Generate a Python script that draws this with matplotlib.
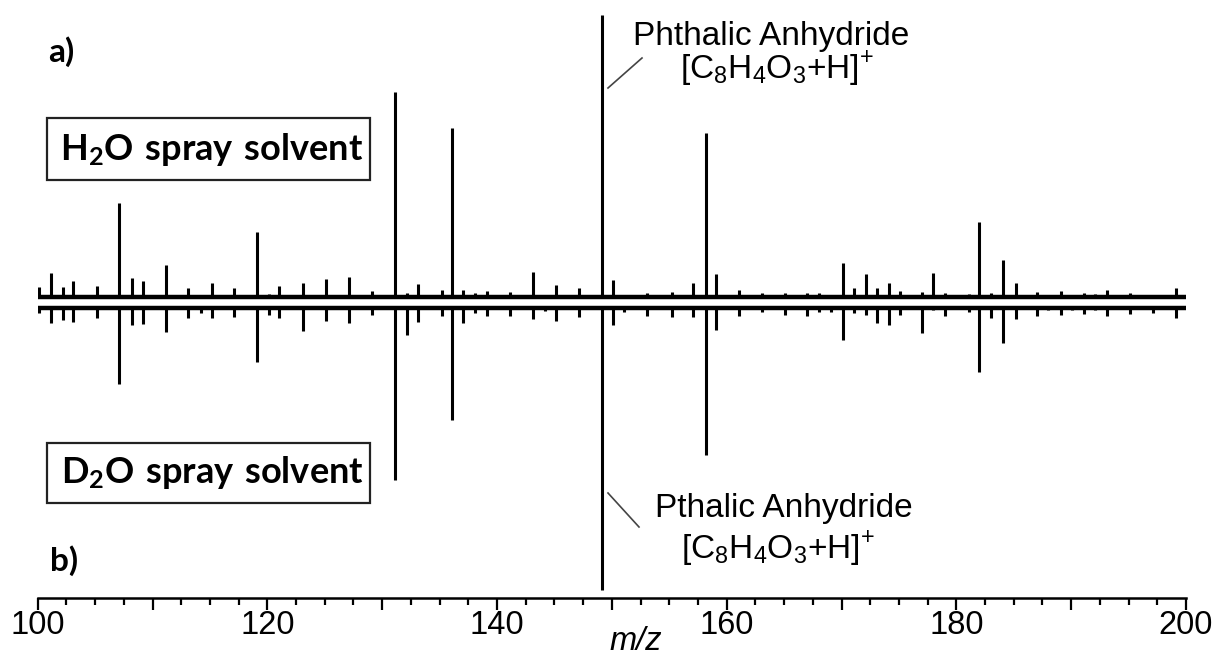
import numpy as np
import matplotlib.pyplot as plt
from matplotlib.lines import Line2D
from matplotlib.patches import Rectangle
from matplotlib.ticker import MultipleLocator, FuncFormatter

plt.rcParams['mathtext.fontset'] = 'custom'
plt.rcParams['mathtext.rm'] = 'Liberation Sans'
plt.rcParams['mathtext.bf'] = 'Lato:bold'

# peak positions (m/z) and relative intensities (%)
mz = [100.1, 101.2, 102.2, 103.1, 105.2, 107.1, 108.2, 109.2, 111.2, 113.1,
      114.2, 115.2, 117.1, 119.1, 120.1, 121.0, 123.1, 125.1, 127.1, 129.1,
      131.1, 132.2, 133.1, 135.2, 136.1, 137.0, 138.1, 139.1, 141.1, 143.1,
      144.2, 145.1, 147.1, 149.1, 150.1, 151.1, 153.1, 155.2, 157.1, 158.2,
      159.1, 161.1, 163.1, 165.1, 167.0, 168.0, 169.1, 170.1, 171.1, 172.1,
      173.1, 174.1, 175.1, 177.0, 178.0, 179.0, 181.1, 182.0, 183.0, 184.1,
      185.2, 187.0, 188.0, 189.1, 190.1, 191.1, 192.1, 193.1, 195.1, 197.1,
      199.1]

h2o_int = [3.5, 8.5, 3.5, 5.7, 3.9, 33.3, 6.7, 5.7, 11.3, 3.2,
           0.7, 5.0, 3.2, 23.0, 1.1, 3.9, 5.0, 6.4, 7.1, 2.1,
           72.7, 1.4, 4.6, 2.5, 59.9, 2.5, 1.4, 2.1, 1.8, 8.9,
           0.7, 4.3, 3.2, 100.0, 6.0, 0.7, 1.4, 1.8, 5.0, 58.2,
           8.2, 2.5, 1.4, 1.4, 1.4, 1.4, 0.7, 12.1, 3.2, 8.2,
           3.2, 5.0, 2.1, 1.8, 8.5, 1.4, 1.1, 26.6, 1.4, 13.1,
           5.0, 1.8, 0.7, 2.1, 0.7, 1.4, 1.1, 2.5, 1.4, 0.7,
           3.2]

d2o_int = [1.8, 5.3, 4.3, 5.0, 3.5, 27.0, 6.0, 5.7, 8.5, 3.5,
           1.8, 3.5, 3.2, 19.1, 2.5, 3.5, 8.2, 4.6, 5.3, 2.5,
           61.0, 9.6, 5.0, 2.8, 39.7, 5.3, 1.8, 2.8, 2.8, 3.9,
           1.1, 4.6, 3.2, 100.0, 6.0, 1.4, 2.8, 3.2, 3.2, 52.1,
           7.8, 2.8, 1.4, 2.5, 2.8, 1.4, 1.4, 11.3, 1.8, 2.5,
           5.3, 6.0, 2.5, 8.9, 0.7, 2.8, 1.4, 22.7, 3.5, 12.4,
           3.9, 2.8, 0.7, 2.5, 0.7, 2.1, 0.7, 2.8, 2.1, 1.8,
           3.5]

W, H = 1215, 657
up_base = 3.9   # upper spectrum sits a little above the lower one

fig = plt.figure(figsize=(W / 100, H / 100), dpi=100)
ax = fig.add_axes([37.7 / W, 1 - 598 / H, (1186 - 37.7) / W, (598 - 15) / H])

ax.hlines([0, up_base], 100, 200, color='black', lw=3.2)
ax.vlines(mz, up_base, up_base + np.array(h2o_int), color='black', lw=2.2)
ax.vlines(mz, -np.array(d2o_int), 0, color='black', lw=2.2)

ax.set_xlim(100, 200)
ax.set_ylim(-102.7, 104.0)
for s in ['left', 'right', 'top']:
    ax.spines[s].set_visible(False)
ax.spines['bottom'].set_linewidth(1.8)
ax.set_yticks([])
ax.xaxis.set_major_locator(MultipleLocator(10))
ax.xaxis.set_minor_locator(MultipleLocator(2.5))
ax.xaxis.set_major_formatter(FuncFormatter(lambda v, p: '%d' % v if int(round(v)) % 20 == 0 else ''))
ax.tick_params(axis='x', which='major', length=8.5, width=1.6, pad=0,
               labelsize=23.5)
ax.tick_params(axis='x', which='minor', length=5, width=1.6)
for lab in ax.get_xticklabels():
    lab.set_fontfamily('Liberation Sans')


def px(x, y):
    return x / W, 1 - y / H


# panel letters and solvent boxes
fig.text(*px(48, 62), 'a)', fontsize=24, fontweight='bold', family='Lato', va='baseline')
fig.text(*px(50, 571), 'b)', fontsize=24, fontweight='bold', family='Lato', va='baseline')

for top, bot, txt, base in [(118, 180, r'$\mathbf{H_2O\ spray\ solvent}$', 160),
                            (443, 503, r'$\mathbf{D_2O\ spray\ solvent}$', 483)]:
    x0, y0 = px(47, bot)
    fig.add_artist(Rectangle((x0, y0), (370 - 47) / W, (bot - top) / H,
                             transform=fig.transFigure, fill=False,
                             edgecolor='#222222', lw=1.6))
    fig.text(*px(212, base), txt, fontsize=26, ha='center', va='baseline')

fig.text(*px(771, 45), 'Phthalic Anhydride', fontsize=24, family='Liberation Sans',
         ha='center', va='baseline')
fig.text(*px(777, 78), r'$\mathrm{[C_8H_4O_3{+}H]}^{+}$', fontsize=24,
         ha='center', va='baseline')
fig.text(*px(784, 517), 'Pthalic Anhydride', fontsize=24, family='Liberation Sans',
         ha='center', va='baseline')
fig.text(*px(778, 558), r'$\mathrm{[C_8H_4O_3{+}H]}^{+}$', fontsize=24,
         ha='center', va='baseline')

for (xa, ya), (xb, yb) in [((608, 88), (642, 58)), ((608, 493), (639, 527))]:
    fig.add_artist(Line2D([xa / W, xb / W], [1 - ya / H, 1 - yb / H],
                          transform=fig.transFigure, color='#444444', lw=1.2))

fig.text(*px(636, 650), 'm/z', fontsize=23.5, style='italic', family='Liberation Sans',
         ha='center', va='baseline')

fig.savefig('out.png', dpi=100)
